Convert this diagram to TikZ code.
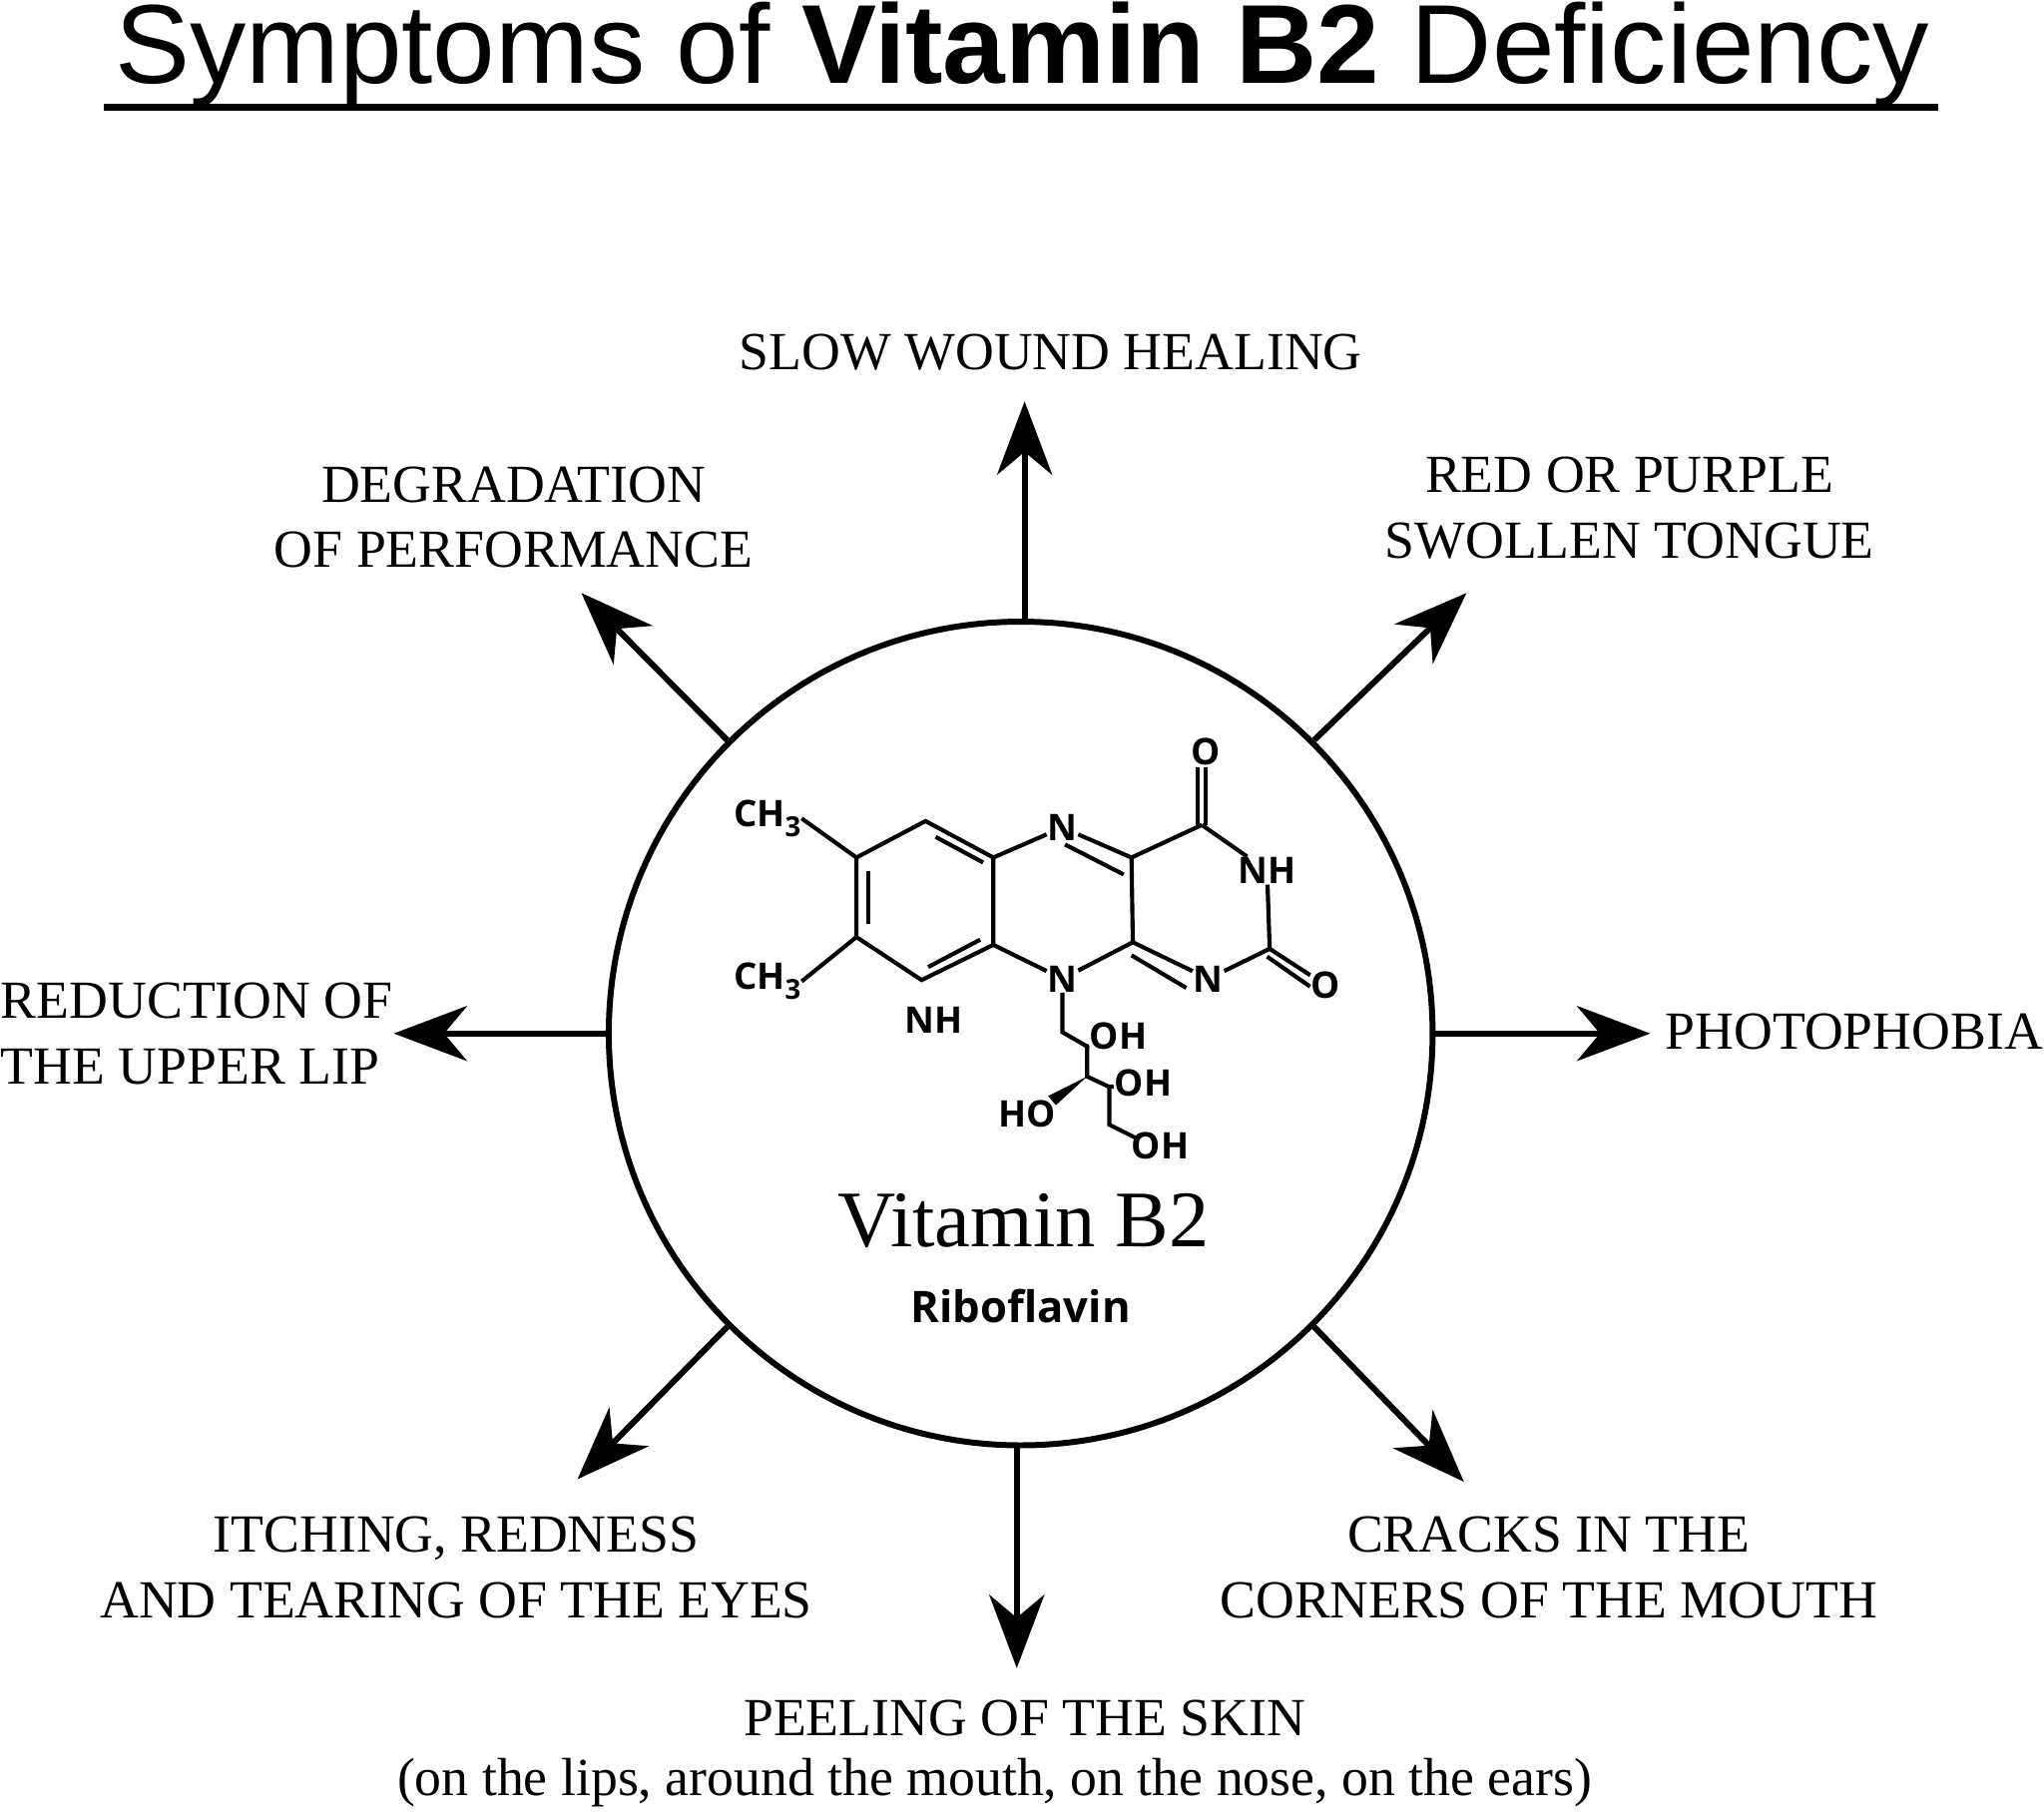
\documentclass[tikz,border=0pt]{standalone}
\usepackage{fontspec}
\setmainfont{Liberation Serif}
\newfontfamily\tsans{Liberation Sans}
\newfontfamily\osans{Open Sans}
\usetikzlibrary{arrows.meta,calc}
\begin{document}
\begin{tikzpicture}[x=0.01cm,y=-0.01cm,
  arr/.style={line width=1.3pt,-{Stealth[length=16pt,width=12pt,inset=5pt]}},
  lab/.style={font=\fontsize{11.7}{14.3}\selectfont,align=center},
  bd/.style={line width=0.9pt},
  atm/.style={font=\osans\bfseries\fontsize{8}{8}\selectfont,inner sep=0pt}]
\useasboundingbox (0,0) rectangle (1568,1390);
\node[font=\tsans\fontsize{24.5}{28}\selectfont,inner sep=0pt] (title) at (784,42) {Symptoms of \textbf{Vitamin B2} Deficiency};
\draw[line width=1.5pt] (80,82) -- (1487,82);
\node[draw,circle,line width=1.3pt,minimum size=632*0.01cm,inner sep=0pt] (c) at (783,793) {};
\node[font=\fontsize{17.5}{20}\selectfont] (vb) at (785,937) {Vitamin B2};
\node[font=\osans\bfseries\fontsize{9.5}{11}\selectfont] (rb) at (783,1002) {Riboflavin};
% labels
\node[lab] (l1) at (806,270) {SLOW WOUND HEALING};
\node[lab] (l2) at (1250,390) {RED OR PURPLE\\SWOLLEN TONGUE};
\node[lab] (l3) at (394,397) {DEGRADATION\\OF PERFORMANCE};
\node[lab,anchor=west,inner sep=0pt] (l4) at (1277,792) {PHOTOPHOBIA};
\node[lab,align=left,anchor=west,inner sep=0pt] (l5) at (0,793) {REDUCTION OF\\THE UPPER LIP};
\node[lab] (l6) at (350,1203) {ITCHING, REDNESS\\AND TEARING OF THE EYES};
\node[lab] (l7) at (1188,1203) {CRACKS IN THE\\CORNERS OF THE MOUTH};
\node[lab] (l8) at (786,1318) {PEELING OF THE SKIN};
\node[lab] (l8b) at (763,1368) {(on the lips, around the mouth, on the nose, on the ears)};
% arrows
\coordinate (s1) at (786,477); \coordinate (s8) at (780,1109);
\coordinate (t1) at (786,308); \coordinate (t2) at (1125,455); \coordinate (t3) at (446,455);
\coordinate (t4) at (1266,793); \coordinate (t5) at (302,793); \coordinate (t6) at (443,1135);
\coordinate (t7) at (1123,1137); \coordinate (t8) at (780,1280);
\draw[arr] (s1) -- (t1);
\draw[arr] (c.45) -- (t2);
\draw[arr] (c.135) -- (t3);
\draw[arr] (c.0) -- (t4);
\draw[arr] (c.180) -- (t5);
\draw[arr] (c.225) -- (t6);
\draw[arr] (c.315) -- (t7);
\draw[arr] (s8) -- (t8);
% molecule
\node[atm] (N1) at (815,635) {N};
\node[atm] (N10) at (815,751) {N};
\node[atm] (N3) at (927,751) {N};
\node[atm] (NH3) at (972,668) {NH};
\node[atm] (O4) at (925,577) {O};
\node[atm] (O2) at (1017,756) {O};
\node[atm] (NHx) at (716,783) {NH};
\node[atm,anchor=east] (m1) at (615,628) {CH\raisebox{-0.5ex}{\fontsize{6}{6}\selectfont 3}};
\node[atm,anchor=east] (m2) at (615,753) {CH\raisebox{-0.5ex}{\fontsize{6}{6}\selectfont 3}};
\node[atm] (oh1) at (858,795) {OH};
\node[atm] (oh2) at (877,831) {OH};
\node[atm] (ho) at (788,855) {HO};
\node[atm] (oh3) at (890,879) {OH};
\coordinate (A) at (710,630); \coordinate (B) at (762,658); \coordinate (C) at (762,725);
\coordinate (D) at (707,752); \coordinate (E) at (657,719); \coordinate (F) at (657,658);
\coordinate (G) at (868,658); \coordinate (H) at (869,723); \coordinate (K) at (922,633);
\coordinate (L) at (974,728);
\draw[bd] (A)--(B)--(C)--(D)--(E)--(F)--cycle;
\draw[bd] ($(A)!0.15!(B)+(0,8)$) -- ($(A)!0.85!(B)+(0,8)$);
\draw[bd] (666,668) -- (666,709);
\draw[bd] (712,742) -- (752,721);
\draw[bd] (B) -- (N1); \draw[bd] (N1) -- (G);
\draw[bd] (817,648) -- (862,671);
\draw[bd] (G) -- (H); \draw[bd] (C) -- (N10); \draw[bd] (N10) -- (H);
\draw[bd] (H) -- (N3); \draw[bd] (868,733) -- (910,758);
\draw[bd] (G) -- (K); \draw[bd] (919,633) -- (919,589); \draw[bd] (925,633) -- (925,589);
\draw[bd] (K) -- (NH3); \draw[bd] (NH3) -- (L); \draw[bd] (N3) -- (L);
\draw[bd] (L) -- (O2); \draw[bd] (972,734) -- (1005,757);
\draw[bd] (F) -- (m1.east); \draw[bd] (E) -- (m2.east);
\draw[bd] (N10) -- (815,792) -- (834,803) -- (834,826) -- (851,834) -- (851,863) -- (871,873);
\draw[bd] (834,803) -- (oh1); \draw[bd] (851,834) -- (oh2);
\fill (834,826) -- (804,841) -- (810,848) -- cycle;
\end{tikzpicture}
\end{document}
